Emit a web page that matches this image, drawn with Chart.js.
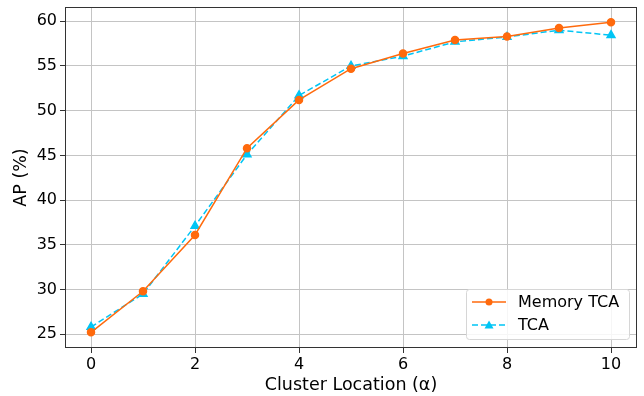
<!DOCTYPE html>
<html>
<head>
<meta charset="utf-8">
<script src="https://cdn.jsdelivr.net/npm/chart.js@4"></script>
<style>
  html, body { margin: 0; padding: 0; background: #fff; }
  #wrap { width: 644px; height: 396px; position: relative; }
</style>
</head>
<body>
<div id="wrap"><canvas id="chart"></canvas></div>
<script>
const alphaValues = [0, 1, 2, 3, 4, 5, 6, 7, 8, 9, 10];
const memoryTca = [25.2, 29.8, 36.1, 45.8, 51.2, 54.7, 56.4, 57.9, 58.3, 59.25, 59.9];
const tca = [25.8, 29.5, 37.1, 45.1, 51.7, 55.0, 56.1, 57.7, 58.25, 59.0, 58.45];
const xTicks = [0, 2, 4, 6, 8, 10];
const yTicks = [25, 30, 35, 40, 45, 50, 55, 60];

const FONT = "'DejaVu Sans', sans-serif";
const ORANGE = '#ff6a0d';
const CYAN = '#00c5f5';

const toPoints = ys => ys.map((y, i) => ({ x: alphaValues[i], y }));

// frame + legend drawn inside the plot, matplotlib style
const framePlugin = {
    id: 'frame',
    afterDraw(chart) {
        const { ctx, chartArea: a } = chart;
        ctx.save();
        ctx.strokeStyle = '#333';
        ctx.lineWidth = 1;
        ctx.strokeRect(a.left + 0.5, a.top + 0.5, a.right - a.left - 1, a.bottom - a.top - 1);

        // legend box
        const bx = a.right - 171, by = a.bottom - 59, bw = 163, bh = 50;
        ctx.fillStyle = 'rgba(255,255,255,0.85)';
        ctx.strokeStyle = '#d6d6d6';
        ctx.beginPath();
        ctx.roundRect(bx + 0.5, by + 0.5, bw, bh, 3);
        ctx.fill();
        ctx.stroke();

        chart.data.datasets.forEach((ds, i) => {
            const ly = by + 13 + i * 23;
            const x0 = bx + 6, x1 = bx + 40, xm = (x0 + x1) / 2;
            ctx.strokeStyle = ds.borderColor;
            ctx.lineWidth = 1.5;
            ctx.setLineDash(ds.borderDash || []);
            ctx.beginPath();
            ctx.moveTo(x0, ly);
            ctx.lineTo(x1, ly);
            ctx.stroke();
            ctx.setLineDash([]);
            ctx.fillStyle = ds.borderColor;
            ctx.beginPath();
            if (ds.pointStyle === 'triangle') {
                ctx.moveTo(xm, ly - 4.5);
                ctx.lineTo(xm + 4.5, ly + 3.5);
                ctx.lineTo(xm - 4.5, ly + 3.5);
                ctx.closePath();
            } else {
                ctx.arc(xm, ly, 3.5, 0, Math.PI * 2);
            }
            ctx.fill();
            ctx.fillStyle = '#000';
            ctx.font = '16px ' + FONT;
            ctx.textBaseline = 'middle';
            ctx.fillText(ds.label, bx + 52, ly + 1);
        });
        ctx.restore();
    }
};

new Chart(document.getElementById('chart'), {
    type: 'line',
    data: {
        datasets: [
            {
                label: 'Memory TCA',
                data: toPoints(memoryTca),
                borderColor: ORANGE,
                backgroundColor: ORANGE,
                borderWidth: 1.5,
                pointStyle: 'circle',
                pointRadius: 3.5,
                tension: 0
            },
            {
                label: 'TCA',
                data: toPoints(tca),
                borderColor: CYAN,
                backgroundColor: CYAN,
                borderWidth: 1.5,
                borderDash: [6, 3],
                pointStyle: 'triangle',
                pointRadius: 4.5,
                tension: 0
            }
        ]
    },
    options: {
        responsive: true,
        maintainAspectRatio: false,
        animation: false,
        layout: { padding: { top: 7, right: 7, left: 0, bottom: 0 } },
        plugins: { legend: { display: false }, tooltip: { enabled: false } },
        scales: {
            x: {
                type: 'linear',
                min: -0.5,
                max: 10.5,
                afterBuildTicks: s => { s.ticks = xTicks.map(v => ({ value: v })); },
                afterFit: s => { s.height = 48; s.paddingLeft = 0; s.paddingRight = 0; },
                grid: { color: '#c4c4c4', tickColor: '#333', tickLength: 5 },
                border: { display: false },
                ticks: { color: '#000', font: { family: FONT, size: 16 }, padding: 2, maxRotation: 0 },
                title: {
                    display: true,
                    text: 'Cluster Location (α)',
                    color: '#000',
                    font: { family: FONT, size: 17.5 },
                    padding: { top: 0, bottom: 0 }
                }
            },
            y: {
                min: 23.45,
                max: 61.6,
                afterBuildTicks: s => { s.ticks = yTicks.map(v => ({ value: v })); },
                afterFit: s => { s.width = 65; s.paddingTop = 0; s.paddingBottom = 0; },
                grid: { color: '#c4c4c4', tickColor: '#333', tickLength: 5 },
                border: { display: false },
                ticks: { color: '#000', font: { family: FONT, size: 16 }, padding: 3 },
                title: {
                    display: true,
                    text: 'AP (%)',
                    color: '#000',
                    font: { family: FONT, size: 17.5 },
                    padding: { top: 11, bottom: 0 }
                }
            }
        }
    },
    plugins: [framePlugin]
});
</script>
</body>
</html>
